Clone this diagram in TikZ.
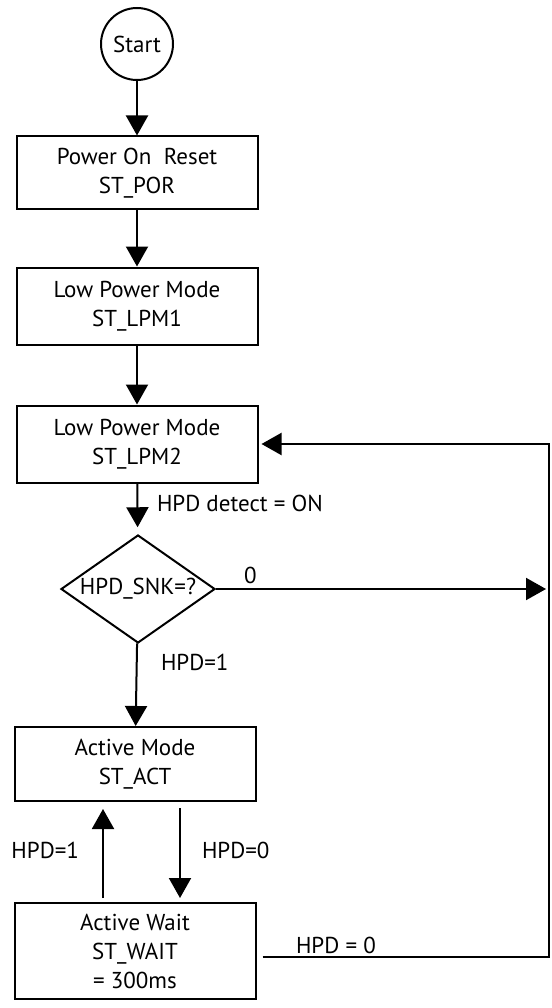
\documentclass[tikz,border=0pt]{standalone}
\usepackage{fontspec}
\setmainfont{PT Sans}
\usetikzlibrary{arrows.meta,shapes.geometric}

\begin{document}
\begin{tikzpicture}[x=1pt,y=-1pt,>={Triangle[width=22pt,length=20pt]},line width=2pt,
  font=\fontsize{23}{29}\selectfont,
  state/.style={draw,rectangle,align=center,minimum width=241pt,inner sep=0pt},
  lbl/.style={inner sep=0pt,anchor=west}]
  \useasboundingbox (0,0) rectangle (551,1008);
  % states
  \node[draw,circle,minimum size=72pt,inner sep=0pt] (start) at (137,44) {Start};
  \node[state,minimum height=73pt] (por)  at (137,173) {Power On~~Reset\\ST\_POR};
  \node[state,minimum height=77pt] (lpm1) at (137,306) {Low Power Mode\\ST\_LPM1};
  \node[state,minimum height=77pt] (lpm2) at (137,444) {Low Power Mode\\ST\_LPM2};
  \node[draw,diamond,minimum width=154pt,minimum height=108pt,inner sep=0pt,
        label={[inner sep=0pt]center:HPD\_SNK=?}] (snk) at (138,589) {};
  \node[state,minimum height=74pt] (act)  at (135,764) {Active Mode\\ST\_ACT};
  \node[state,minimum height=96pt] (wait) at (135,951) {Active Wait\\ST\_WAIT\\= 300ms};
  % helper points
  \coordinate (edge) at (546,589);
  \coordinate (wout) at (549,957);
  \coordinate (up) at (103,0);
  \coordinate (dn) at (180,0);
  % forward path
  \draw[->] (start) -- (por);
  \draw[->] (por) -- (lpm1);
  \draw[->] (lpm1) -- (lpm2);
  \draw[->,shorten >=7pt] (lpm2) -- (snk);
  \node[lbl] (det) at (156,503) {HPD detect = ON};
  \draw[->] (snk) -- (act);
  \node[lbl] (one) at (160,662) {HPD=1};
  \draw[->] (snk) -- (edge);
  \node[lbl] (zero) at (243,575) {0};
  % active <-> wait
  \draw[->,shorten <=6pt,shorten >=4pt] (act.south -| dn) -- (wait.north -| dn);
  \node[lbl] (hpd0) at (201,850) {HPD=0};
  \draw[->,shorten <=4pt,shorten >=7pt] (wait.north -| up) -- (act.south -| up);
  \node[lbl,anchor=east] (hpd1) at (80,850) {HPD=1};
  % back to ST_LPM2
  \draw[->,shorten <=6pt,shorten >=3pt] (wait.east |- wout) -- (wout) -- (wout |- lpm2) -- (lpm2.east);
  \node[lbl] (back) at (295,945) {HPD = 0};
\end{tikzpicture}
\end{document}
